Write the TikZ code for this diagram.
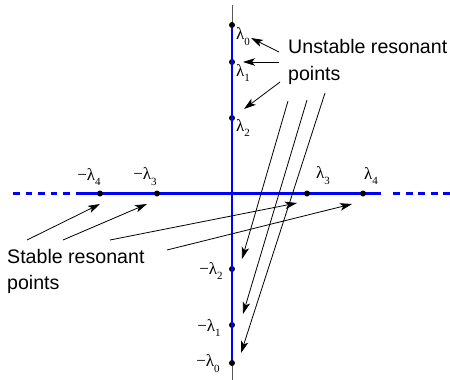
\documentclass[tikz,border=0pt]{standalone}
\usepackage{fontspec}
\setmainfont{Liberation Serif}
\newfontfamily\labelfont{Liberation Sans}
\usetikzlibrary{arrows.meta}
\newcommand{\lamb}[2]{#1λ\raisebox{-0.35em}{\fontsize{11}{11}\selectfont #2}}
\begin{document}
\begin{tikzpicture}[x=1pt,y=-1pt,
 blueaxis/.style={draw=blue, line width=2.1pt},
 grayaxis/.style={draw=gray!70!black, line width=0.9pt},
 dashaxis/.style={draw=blue,line width=2.2pt,dash pattern=on 6.7pt off 5.8pt},
 dot/.style={circle,fill=black,inner sep=0pt,minimum size=6pt},
 lam/.style={inner sep=0pt,font=\fontsize{17}{17}\selectfont},
 txt/.style={font=\labelfont\fontsize{19.6}{26.5}\selectfont,align=left,inner sep=0pt,anchor=base west},
 arr/.style={-{Stealth[length=12pt,width=7.5pt,inset=3pt]},line width=0.8pt}]
\useasboundingbox (0,0) rectangle (450,380);
% axes
\coordinate (vtop) at (232,5);
\coordinate (vbot) at (232,380);
\draw[grayaxis] (vtop) -- (vbot);
\coordinate (hl) at (13,193.5);
\coordinate (hs) at (76,193.5);
\coordinate (he) at (381,193.5);
\coordinate (hd) at (393.3,193.5);
\coordinate (hr) at (450,193.5);
\draw[dashaxis] (hl) -- (hs);
\draw[blueaxis] (hs) -- (he);
\draw[dashaxis] (hd) -- (hr);
% dots
\node[dot] (l0) at (232,25) {};
\node[dot] (l1) at (232,62) {};
\node[dot] (l2) at (232,118) {};
\node[dot] (m2) at (232,269) {};
\node[dot] (m1) at (232,325) {};
\node[dot] (m0) at (232,363) {};
\draw[blueaxis] (l0) -- (m0);
\node[dot] (m4) at (100,193.5) {};
\node[dot] (m3) at (157,193.5) {};
\node[dot] (l3) at (307,193.5) {};
\node[dot] (l4) at (363,193.5) {};
% labels
\node[lam] (tl0) at (243,37) {\lamb{}{0}};
\node[lam] (tl1) at (243,73) {\lamb{}{1}};
\node[lam] (tl2) at (243,128) {\lamb{}{2}};
\node[lam] (tm4) at (89,177) {\lamb{−}{4}};
\node[lam] (tm3) at (145,177) {\lamb{−}{3}};
\node[lam] (tl3) at (323,176) {\lamb{}{3}};
\node[lam] (tl4) at (371,176) {\lamb{}{4}};
\node[lam] (tm2) at (211,271) {\lamb{−}{2}};
\node[lam] (tm1) at (209,328) {\lamb{−}{1}};
\node[lam] (tm0) at (208,364) {\lamb{−}{0}};
% texts (base anchor = last line's baseline)
\node[txt] (unst) at (288,80) {Unstable resonant\\points};
\node[txt] (stab) at (7,289.5) {Stable resonant\\points};
% arrow endpoints
\coordinate (u1s) at (279,52);  \coordinate (u1e) at (251,38);
\coordinate (u2s) at (279,62);  \coordinate (u2e) at (243,62);
\coordinate (u3s) at (280,82);  \coordinate (u3e) at (244,109);
\coordinate (u4s) at (288,101); \coordinate (u4e) at (242,259);
\coordinate (u5s) at (307,100); \coordinate (u5e) at (243,314);
\coordinate (u6s) at (325,93);  \coordinate (u6e) at (241,353);
\coordinate (s1s) at (27,240);  \coordinate (s1e) at (100,204);
\coordinate (s2s) at (63,240);  \coordinate (s2e) at (147,204);
\coordinate (s3s) at (110,240); \coordinate (s3e) at (297,203);
\coordinate (s4s) at (167,250); \coordinate (s4e) at (352,204);
\foreach \a in {u1,u2,u3,u4,u5,u6,s1,s2,s3,s4}
  \draw[arr] (\a s) -- (\a e);
\end{tikzpicture}
\end{document}
